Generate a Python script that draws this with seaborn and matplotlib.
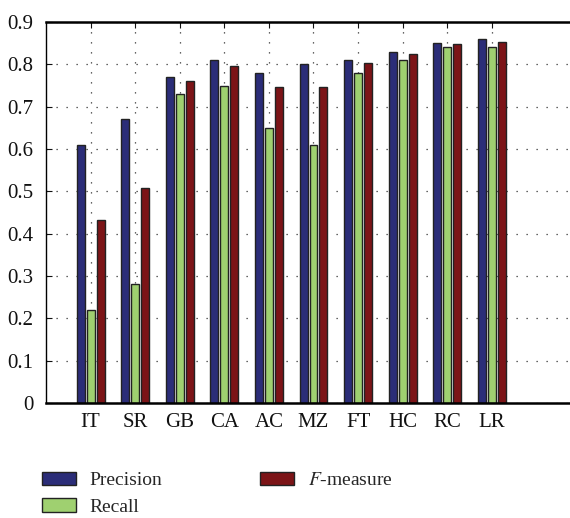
import pandas as pd
import matplotlib
matplotlib.use('Agg')
import matplotlib.pyplot as plt
import seaborn as sns

# Data
methods = ['IT', 'SR', 'GB', 'CA', 'AC', 'MZ', 'FT', 'HC', 'RC', 'LR']
precision = [0.61, 0.67, 0.77, 0.81, 0.78, 0.80, 0.81, 0.83, 0.85, 0.86]
recall = [0.22, 0.28, 0.73, 0.75, 0.65, 0.61, 0.78, 0.81, 0.84, 0.84]
f_measure = [0.433, 0.507, 0.76, 0.795, 0.746, 0.746, 0.802, 0.825, 0.848, 0.853]
metric_names = ['Precision', 'Recall', '$F$-measure']

df = pd.DataFrame({
    'method': methods * 3,
    'value': precision + recall + f_measure,
    'metric': [m for m in metric_names for _ in methods],
})

sns.set_style('ticks', {'xtick.direction': 'in', 'ytick.direction': 'in'})
plt.rcParams['font.family'] = ['Liberation Serif', 'DejaVu Serif']
plt.rcParams['mathtext.fontset'] = 'stix'

fig = plt.figure(figsize=(5.7, 5.18), dpi=100)
ax = fig.add_axes([46 / 570, 115 / 518, 535 / 570, 381 / 518])

sns.barplot(
    data=df, x='method', y='value', hue='metric',
    palette=['#2b2d78', '#9fd070', '#7c1417'], saturation=1,
    width=0.67, gap=0.2, edgecolor='#222222', linewidth=1.0,
    ax=ax,
)

handles, labels = ax.get_legend_handles_labels()
ax.get_legend().remove()

ax.set_xlim(-1, 11)
ax.set_ylim(0, 0.9)
ax.set_yticks([i / 10 for i in range(10)])
ax.set_yticklabels(['0'] + ['%.1f' % (i / 10) for i in range(1, 10)])
ax.set_xlabel('')
ax.set_ylabel('')
ax.tick_params(axis='both', labelsize=15, colors='#111111', length=4,
               top=True, right=False)
ax.tick_params(axis='x', pad=7)
ax.tick_params(axis='y', pad=9)
ax.grid(True, linestyle=(0, (1, 7)), color='#333333', linewidth=0.9)
ax.set_axisbelow(True)
for side in ['top', 'left', 'bottom']:
    ax.spines[side].set_visible(True)
    ax.spines[side].set_linewidth(1.8)
    ax.spines[side].set_color('black')
ax.spines['left'].set_linewidth(1.0)

fig.legend(
    handles, labels, ncol=2, loc='upper left',
    bbox_to_anchor=(32 / 570, 1 - 462 / 518),
    frameon=False, fontsize=14, handlelength=1.75, handleheight=0.7,
    handletextpad=0.7, columnspacing=5.05, labelspacing=0.45, borderpad=0,
)

fig.savefig('out.png', dpi=100)
plt.close(fig)
